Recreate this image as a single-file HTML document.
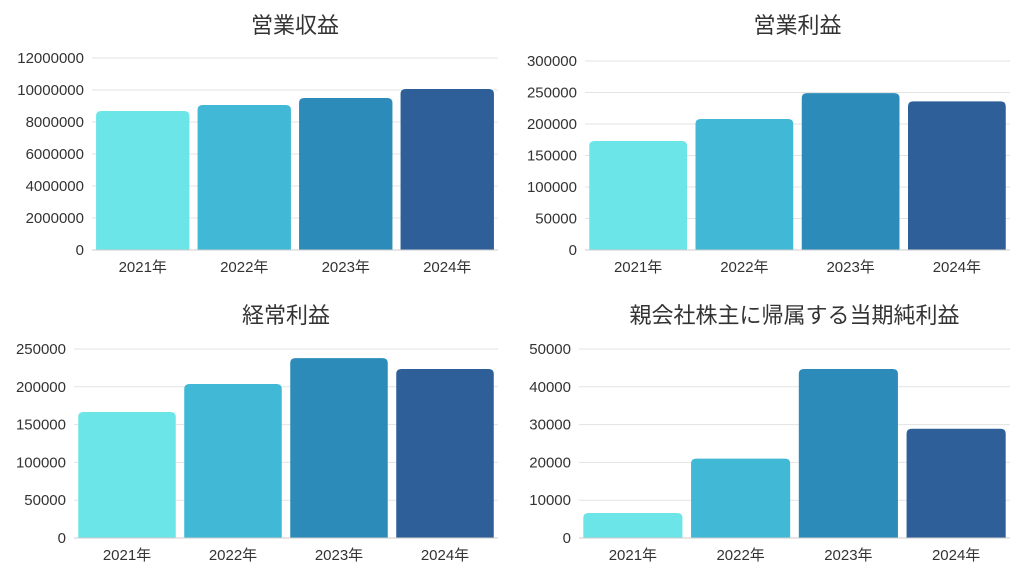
<!DOCTYPE html>
<html><head><meta charset="utf-8">
<style>
body{margin:0;background:#fff;width:1024px;height:576px;overflow:hidden;font-family:"Liberation Sans","Noto Sans CJK JP",sans-serif;}
svg text{font-family:"Liberation Sans","Noto Sans CJK JP",sans-serif;fill:#333;}
</style></head>
<body>
<svg id="c" width="1024" height="576" xmlns="http://www.w3.org/2000/svg"></svg>
<script>
const categories = ["2021年","2022年","2023年","2024年"];
const colors = ["#6ce5e8","#41b8d5","#2d8bba","#2f5f98"];
const revenueValues = [8690000, 9060000, 9500000, 10060000];
const revenueTicks = [0,2000000,4000000,6000000,8000000,10000000,12000000];
const opIncomeValues = [173000, 208000, 249000, 236000];
const opIncomeTicks = [0,50000,100000,150000,200000,250000,300000];
const ordIncomeValues = [166700, 203700, 238000, 223500];
const ordIncomeTicks = [0,50000,100000,150000,200000,250000];
const netIncomeValues = [6600, 21000, 44700, 28900];
const netIncomeTicks = [0,10000,20000,30000,40000,50000];

const svg = document.getElementById('c');
const NS = 'http://www.w3.org/2000/svg';
function mk(tag, attrs, parent){const e=document.createElementNS(NS,tag);for(const k in attrs)e.setAttribute(k,attrs[k]);parent.appendChild(e);return e;}

function chart(name, title, values, ticks, x0, x1, yTop, yBase, titleY){
  const g = mk('g', {}, svg);
  
  
  const max = ticks[ticks.length-1];
  const y = v => yBase - (v/max)*(yBase-yTop);
  const t = mk('text', {x:(x0+x1)/2, y:titleY, 'text-anchor':'middle', 'font-size':22}, g);
  t.textContent = title;
  
  
  ticks.forEach(v => {
    const l = mk('line', {x1:x0, x2:x1, y1:y(v), y2:y(v), stroke:'#e3e3e3', 'stroke-width':1}, g);
    
    
    const tx = mk('text', {x:x0-8, y:y(v)+5, 'text-anchor':'end', 'font-size':15}, g);
    tx.textContent = v;
    
    
  });
  const band = (x1-x0)/categories.length;
  const bw = band*0.92;
  values.forEach((v,i) => {
    const bx = x0 + band*i + (band-bw)/2;
    const top = y(v), h = yBase-top, r = Math.min(5,h/2);
    const p = mk('path', {d:`M${bx},${yBase}V${top+r}Q${bx},${top} ${bx+r},${top}H${bx+bw-r}Q${bx+bw},${top} ${bx+bw},${top+r}V${yBase}Z`, fill:colors[i]}, g);
    
    
    const lx = mk('text', {x:bx+bw/2, y:yBase+22, 'text-anchor':'middle', 'font-size':15}, g);
    lx.textContent = categories[i];
    
    
  });
  const ax = mk('line', {x1:x0, x2:x1, y1:yBase, y2:yBase, stroke:'#ccc', 'stroke-width':1}, g);
  
  
}
chart('revenue-chart','営業収益',revenueValues,revenueTicks,92,498,58,250,33);
chart('operating-income-chart','営業利益',opIncomeValues,opIncomeTicks,585,1010,61,250,33);
chart('ordinary-income-chart','経常利益',ordIncomeValues,ordIncomeTicks,74,498,349,538,323);
chart('net-income-chart','親会社社株主に帰属する当期純利益'.replace('社社','社'),netIncomeValues,netIncomeTicks,579,1010,349,538,323);
</script>
</body></html>
